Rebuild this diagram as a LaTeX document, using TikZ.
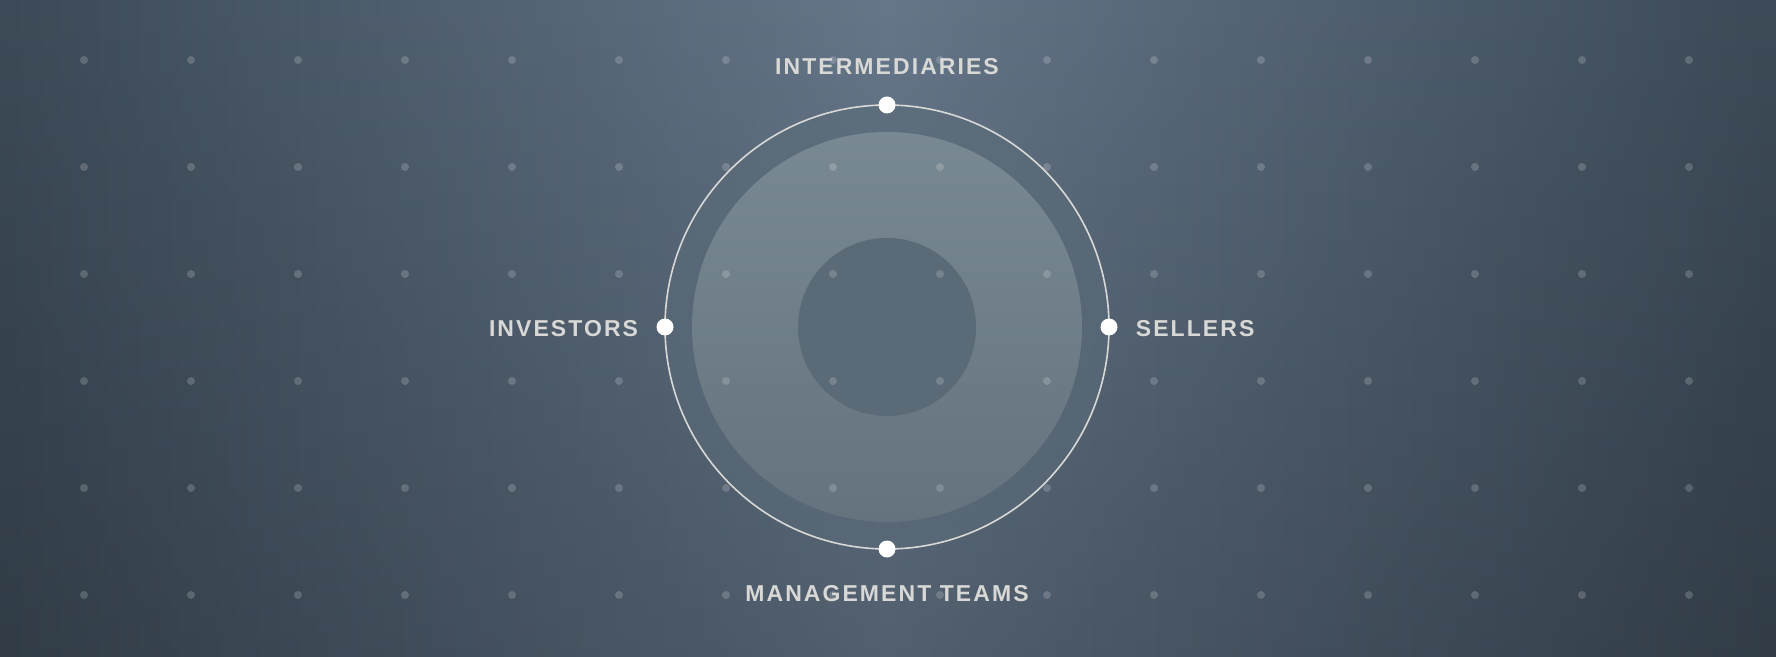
\documentclass[tikz,border=0pt]{standalone}
\usepackage{fontspec}
\setmainfont{Liberation Sans}
\newfontfamily\rolefont[LetterSpace=9]{Liberation Sans}
\usetikzlibrary{positioning,fadings}

\definecolor{bgdark}{HTML}{3C4A57}
\definecolor{bglight}{HTML}{66778A}
\definecolor{ringfill}{HTML}{5A6B78}
\definecolor{disktop}{HTML}{798993}
\definecolor{diskbottom}{HTML}{64737E}
\definecolor{hubfill}{HTML}{5A6A77}
\definecolor{labelgrey}{HTML}{D8D8D6}

\begin{document}
\begin{tikzpicture}[x=1pt,y=1pt,
  pin/.style={circle,fill=white,inner sep=0pt,minimum size=17pt},
  rolelabel/.style={inner sep=0pt,text=labelgrey,
    font=\rolefont\bfseries\fontsize{23}{27}\selectfont}]

	% backdrop
	\useasboundingbox (0,0) rectangle (1776,656);
	\clip (0,0) rectangle (1776,656);
	\shade[left color=bgdark, right color=bgdark, middle color=bglight] (-10,-10) rectangle (1786,666);
	\fill[black, opacity=.2, path fading=north] (-10,-10) rectangle (1786,666);

	% rings
	\fill[ringfill, opacity=.6] (887,329) circle (222);
	\shade[top color=disktop, bottom color=diskbottom] (887,329) circle (195);
	\node[circle, fill=hubfill, minimum size=178pt, inner sep=0pt] (hub) at (887,329) {};
	\draw[labelgrey, line width=1.6pt] (hub.center) circle (222);

	% dot grid
	\foreach \i in {0,...,15} {
		\foreach \j in {0,...,5} {
			\fill[white, opacity=.18] (84+107*\i, 596-107*\j) circle (4);
		}
	}

	\node[pin] (pinTop) at (887,551) {};
	\node[pin] (pinBottom) at (887,107) {};
	\node[pin] (pinLeft) at (665,329) {};
	\node[pin] (pinRight) at (1109,329) {};

	\node[rolelabel, above=21pt of pinTop] (intermediaries) {INTERMEDIARIES};
	\node[rolelabel, below=28pt of pinBottom] (management) {MANAGEMENT TEAMS};
	\node[rolelabel, left=18pt of pinLeft, yshift=-2pt] (investors) {INVESTORS};
	\node[rolelabel, right=18pt of pinRight, yshift=-2pt] (sellers) {SELLERS};
\end{tikzpicture}
\end{document}
